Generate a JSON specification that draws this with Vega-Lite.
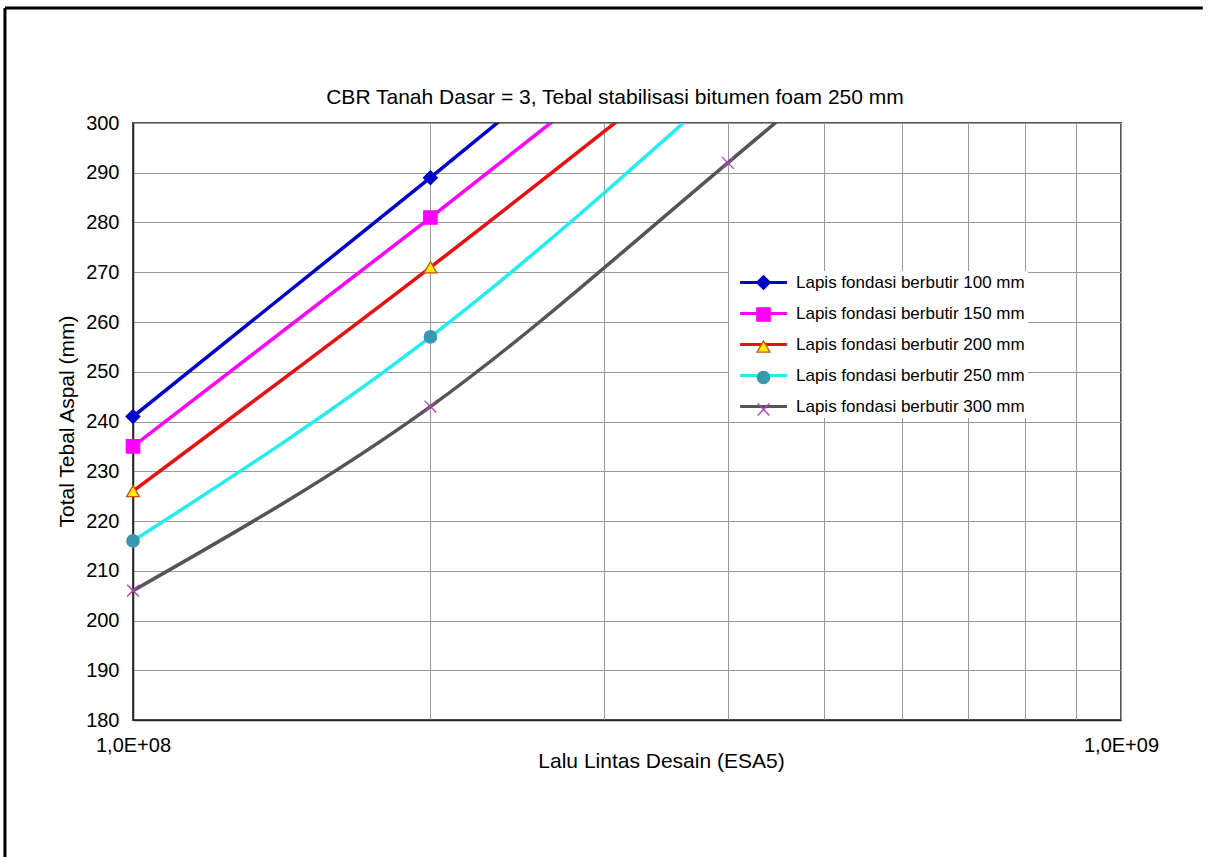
{
  "$schema": "https://vega.github.io/schema/vega-lite/v6.json",
  "width": 988,
  "height": 597,
  "autosize": {"type": "none"},
  "padding": {"left": 133, "top": 123, "right": 94, "bottom": 137},
  "background": "white",
  "title": {
    "text": "CBR Tanah Dasar = 3, Tebal stabilisasi bitumen foam 250 mm",
    "font": "Liberation Sans",
    "fontSize": 21,
    "fontWeight": "normal",
    "color": "#000000",
    "anchor": "middle",
    "dx": -12,
    "offset": -101
  },
  "datasets": {
    "curves": [
      {"s": "Lapis fondasi berbutir 100 mm", "esa": 100000000, "t": 241},
      {"s": "Lapis fondasi berbutir 100 mm", "esa": 200000000, "t": 289},
      {"s": "Lapis fondasi berbutir 100 mm", "esa": 400000000, "t": 338},
      {"s": "Lapis fondasi berbutir 150 mm", "esa": 100000000, "t": 235},
      {"s": "Lapis fondasi berbutir 150 mm", "esa": 200000000, "t": 281},
      {"s": "Lapis fondasi berbutir 150 mm", "esa": 400000000, "t": 328},
      {"s": "Lapis fondasi berbutir 200 mm", "esa": 100000000, "t": 226},
      {"s": "Lapis fondasi berbutir 200 mm", "esa": 200000000, "t": 271},
      {"s": "Lapis fondasi berbutir 200 mm", "esa": 400000000, "t": 318},
      {"s": "Lapis fondasi berbutir 250 mm", "esa": 100000000, "t": 216},
      {"s": "Lapis fondasi berbutir 250 mm", "esa": 200000000, "t": 257},
      {"s": "Lapis fondasi berbutir 250 mm", "esa": 400000000, "t": 308},
      {"s": "Lapis fondasi berbutir 300 mm", "esa": 100000000, "t": 206},
      {"s": "Lapis fondasi berbutir 300 mm", "esa": 200000000, "t": 243},
      {"s": "Lapis fondasi berbutir 300 mm", "esa": 400000000, "t": 292},
      {"s": "Lapis fondasi berbutir 300 mm", "esa": 800000000, "t": 343}
    ]
  },
  "config": {
    "font": "Liberation Sans",
    "view": {"stroke": "#555555", "strokeWidth": 2},
    "axis": {
      "labelFont": "Liberation Sans",
      "labelFontSize": 20,
      "labelColor": "#000000",
      "titleFont": "Liberation Sans",
      "titleFontSize": 21,
      "titleFontWeight": "normal",
      "titleColor": "#000000",
      "ticks": false,
      "grid": true,
      "gridColor": "#999999",
      "gridWidth": 1,
      "domainColor": "#222222",
      "domainWidth": 1.5
    },
    "legend": {
      "orient": "none",
      "legendX": 596,
      "legendY": 148,
      "padding": 3,
      "rowPadding": 13,
      "labelFont": "Liberation Sans",
      "labelFontSize": 17,
      "labelColor": "#000000",
      "labelLimit": 400,
      "symbolSize": 144,
      "symbolOffset": 23,
      "labelOffset": 24,
      "title": null
    }
  },
  "layer": [
    {
      "data": {"name": "curves"},
      "mark": {"type": "line", "interpolate": "monotone", "strokeWidth": 3.5, "clip": true},
      "encoding": {
        "x": {
          "field": "esa",
          "type": "quantitative",
          "scale": {"type": "log", "domain": [100000000, 1000000000], "nice": false},
          "axis": {
            "title": "Lalu Lintas Desain (ESA5)",
            "values": [100000000, 200000000, 300000000, 400000000, 500000000, 600000000, 700000000, 800000000, 900000000, 1000000000],
            "labelExpr": "datum.value == 100000000 ? '1,0E+08' : (datum.value == 1000000000 ? '1,0E+09' : '')",
            "labelFlush": false,
            "labelOverlap": false,
            "labelPadding": 15,
            "titleX": 528,
            "titleY": 47,
            "titleAlign": "center",
            "titleBaseline": "alphabetic"
          }
        },
        "y": {
          "field": "t",
          "type": "quantitative",
          "scale": {"domain": [180, 300], "zero": false, "nice": false},
          "axis": {
            "title": "Total Tebal Aspal (mm)",
            "values": [180, 190, 200, 210, 220, 230, 240, 250, 260, 270, 280, 290, 300],
            "labelPadding": 14,
            "titleX": -66,
            "titleY": 298,
            "titleAngle": -90,
            "titleAlign": "center",
            "titleBaseline": "middle"
          }
        },
        "color": {
          "field": "s",
          "type": "nominal",
          "scale": {
            "domain": ["Lapis fondasi berbutir 100 mm", "Lapis fondasi berbutir 150 mm", "Lapis fondasi berbutir 200 mm", "Lapis fondasi berbutir 250 mm", "Lapis fondasi berbutir 300 mm"],
            "range": ["#0000cc", "#ff00ff", "#e81010", "#22eeee", "#555555"]
          },
          "legend": {
            "symbolType": "M-3.9,0H3.9",
            "symbolStrokeWidth": 3,
            "fillColor": "white"
          }
        }
      }
    },
    {
      "data": {"name": "curves"},
      "transform": [{"filter": "datum.t <= 300"}],
      "mark": {"type": "point", "strokeWidth": 1.3, "opacity": 1, "clip": false},
      "encoding": {
        "x": {"field": "esa", "type": "quantitative"},
        "y": {"field": "t", "type": "quantitative"},
        "shape": {
          "field": "s",
          "type": "nominal",
          "scale": {"range": ["diamond", "square", "triangle-up", "circle", "M-1,-1L1,1M1,-1L-1,1"]},
          "legend": {"labelExpr": "''", "symbolStrokeWidth": 1.3}
        },
        "size": {
          "field": "s",
          "type": "nominal",
          "scale": {"range": [190, 140, 150, 80, 150]}
        },
        "fill": {
          "field": "s",
          "type": "nominal",
          "scale": {"range": ["#0000cc", "#ff00ff", "#ffee00", "#3a98b0", "transparent"]}
        },
        "stroke": {
          "field": "s",
          "type": "nominal",
          "scale": {"range": ["#0000cc", "#ff00ff", "#cc5500", "#3a98b0", "#b040b8"]}
        }
      }
    },
    {
      "data": {"values": [{}]},
      "mark": {"type": "rule", "color": "#000000", "strokeWidth": 3, "clip": false},
      "encoding": {
        "x": {"datum": 74200000, "type": "quantitative"},
        "y": {"datum": 323.1, "type": "quantitative"},
        "y2": {"datum": 150}
      }
    },
    {
      "data": {"values": [{}]},
      "mark": {"type": "rule", "color": "#000000", "strokeWidth": 3, "clip": false},
      "encoding": {
        "x": {"datum": 74200000, "type": "quantitative"},
        "x2": {"datum": 1210000000},
        "y": {"datum": 323.1, "type": "quantitative"}
      }
    }
  ]
}
